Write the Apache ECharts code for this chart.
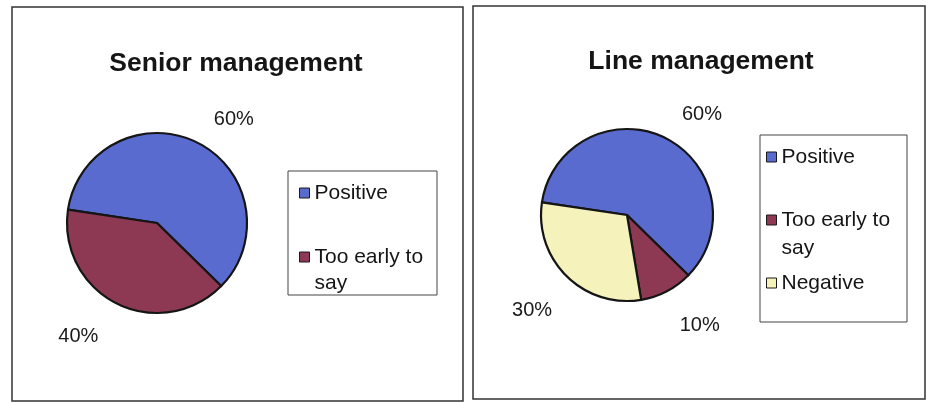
<!DOCTYPE html>
<html>
<head>
<meta charset="utf-8">
<script src="https://cdn.jsdelivr.net/npm/echarts@6/dist/echarts.min.js"></script>
<style>
  html, body { margin: 0; padding: 0; background: #fff; }
  #chart { width: 926px; height: 402px; }
</style>
</head>
<body>
<div id="chart"></div>
<script>
// Survey responses, in percent
const seniorTitle = 'Senior management';
const seniorNames = ['Positive', 'Too early to say'];
const seniorValues = [60, 40];

const lineTitle = 'Line management';
const lineNames = ['Positive', 'Too early to say', 'Negative'];
const lineValues = [60, 10, 30];

// How far each percentage label sits beyond the rim, and its gap to that point
const seniorLabelReach = [26, 37];
const seniorLabelGap = [5, 2];
const lineLabelReach = [26, 39, 48];
const lineLabelGap = [5, -5, -19];

const sliceColors = {
  'Positive': '#5a6bcf',
  'Too early to say': '#8d3953',
  'Negative': '#f5f2bb'
};

const FONT = '"Liberation Sans", Arial, sans-serif';

function buildData(names, values, reach, gap) {
  return names.map((name, i) => ({
    name: name,
    value: values[i],
    itemStyle: { color: sliceColors[name] },
    labelLine: { show: false, length: reach[i], length2: 0 },
    label: { distanceToLabelLine: gap[i] }
  }));
}

function pieSeries(names, values, reach, gap, center, radius) {
  return {
    type: 'pie',
    center: center,
    radius: radius,
    startAngle: 171.5,
    clockwise: true,
    avoidLabelOverlap: false,
    animation: false,
    itemStyle: { borderColor: '#151515', borderWidth: 2.2 },
    label: {
      show: true,
      position: 'outside',
      formatter: '{c}%',
      fontFamily: FONT,
      fontSize: 20,
      color: '#1a1a1a'
    },
    labelLine: { show: false },
    emphasis: { disabled: true },
    data: buildData(names, values, reach, gap)
  };
}

// Legend entry; a two-line entry keeps its swatch beside the first line
function legendEntry(name, left, top, lineHeight, twoLine) {
  const sw = 10;
  const iconH = twoLine ? sw + lineHeight : sw;
  return {
    orient: 'vertical',
    left: left,
    top: top,
    padding: 0,
    icon: twoLine
      ? 'path://M0,0H' + sw + 'V' + sw + 'H0Z M0,' + iconH + 'Z'
      : 'rect',
    itemWidth: sw,
    itemHeight: iconH,
    symbolKeepAspect: true,
    selectedMode: false,
    itemStyle: { borderColor: '#1a1a1a', borderWidth: 1 },
    textStyle: {
      fontFamily: FONT,
      fontSize: 21,
      lineHeight: lineHeight,
      color: '#151515'
    },
    formatter: (n) => n.replace(' to say', ' to\nsay'),
    data: [name]
  };
}

const chart = echarts.init(document.getElementById('chart'), null, { renderer: 'canvas' });

const titleStyle = { fontFamily: FONT, fontSize: 26.5, fontWeight: 'bold', color: '#151515' };

chart.setOption({
  backgroundColor: '#ffffff',
  title: [
    { text: seniorTitle, left: 231, top: 45, textAlign: 'center', textStyle: titleStyle },
    { text: lineTitle, left: 696, top: 43, textAlign: 'center', textStyle: titleStyle }
  ],
  legend: [
    legendEntry('Positive', 299, 180, 26, false),
    legendEntry('Too early to say', 299, 244, 26, true),
    legendEntry('Positive', 766, 143, 28, false),
    legendEntry('Too early to say', 766, 206, 28, true),
    legendEntry('Negative', 766, 269, 28, false)
  ],
  graphic: [
    // panel frames
    { type: 'rect', shape: { x: 12, y: 7, width: 451, height: 394 },
      style: { fill: null, stroke: '#333', lineWidth: 1.5 }, silent: true },
    { type: 'rect', shape: { x: 473, y: 6, width: 452, height: 393 },
      style: { fill: null, stroke: '#333', lineWidth: 1.5 }, silent: true },
    // legend boxes
    { type: 'rect', shape: { x: 288, y: 171, width: 149, height: 124 },
      style: { fill: null, stroke: '#444', lineWidth: 1 }, silent: true },
    { type: 'rect', shape: { x: 760, y: 135, width: 147, height: 187 },
      style: { fill: null, stroke: '#444', lineWidth: 1 }, silent: true }
  ],
  series: [
    pieSeries(seniorNames, seniorValues, seniorLabelReach, seniorLabelGap, [157, 223], 90),
    pieSeries(lineNames, lineValues, lineLabelReach, lineLabelGap, [627, 215], 86)
  ]
});
</script>
</body>
</html>
